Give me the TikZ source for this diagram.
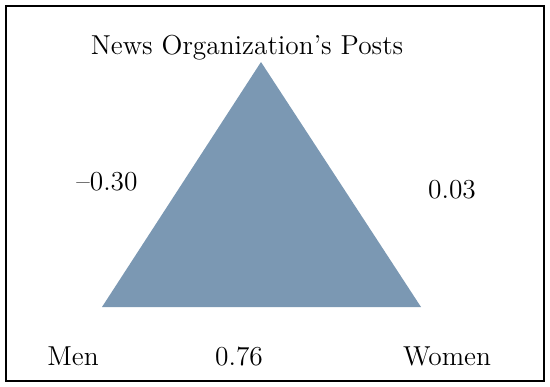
\documentclass[tikz,border=0pt]{standalone}
\usepackage{xcolor}
\usepackage{tikz}
\usetikzlibrary{positioning}
\definecolor{triblue}{RGB}{123,152,179}

\tikzset{
  lbl/.style={anchor=base, inner sep=0pt, font=\fontsize{13.7}{16}\selectfont}
}

\begin{document}
\begin{tikzpicture}[x=0.5pt, y=-0.5pt]
  \useasboundingbox (0,0) rectangle (550,386);
  % outer frame
  \draw[line width=0.8pt] (6,6) rectangle (544,381);
  % triangle corners
  \coordinate (top) at (261,62);
  \coordinate (men) at (102,307);
  \coordinate (women) at (421,307);
  \fill[triblue] (top) -- (men) -- (women) -- cycle;
  % labels
  \node[lbl] (posts) at (247,54) {News Organization’s Posts};
  \node[lbl] (left) at (107,190) {--0.30};
  \node[lbl] (right) at (452,198) {0.03};
  \node[lbl] (mlab) at (73,365) {Men};
  \node[lbl] (base) at (239,365) {0.76};
  \node[lbl] (wlab) at (447,365) {Women};
\end{tikzpicture}
\end{document}
